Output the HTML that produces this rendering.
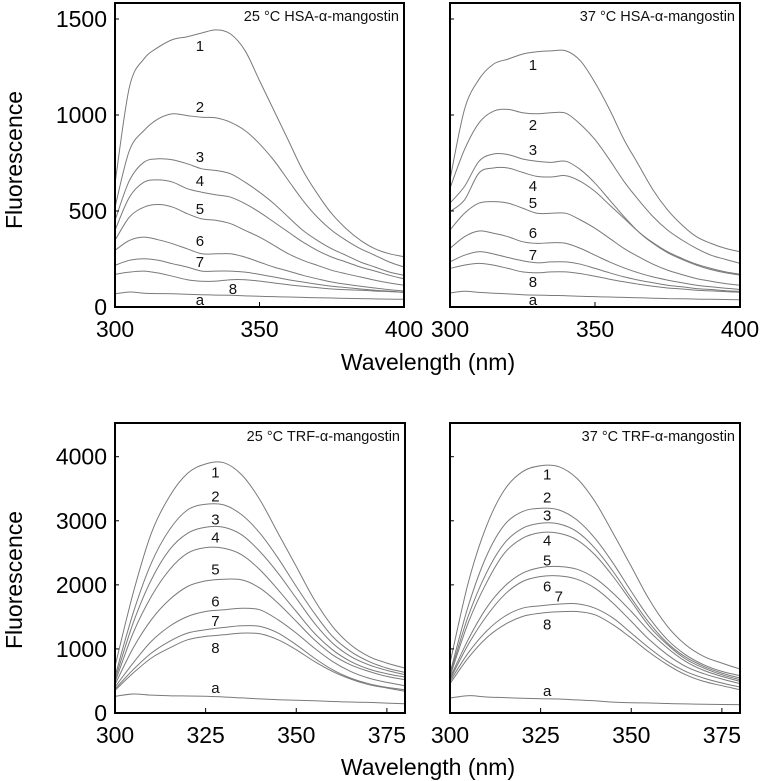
<!DOCTYPE html>
<html><head><meta charset="utf-8"><style>
html,body{margin:0;padding:0;background:#fff;}
svg{display:block;font-family:"Liberation Sans",sans-serif;}
</style></head><body>
<svg id="fig" width="760" height="781" viewBox="0 0 760 781" xmlns="http://www.w3.org/2000/svg"></svg>
<script>
// ---- data ----
const hsaWl = [300,305,310,315,320,325,330,335,340,345,350,355,360,365,370,375,380,385,390,395,400];
const trfWl = [300,305,310,315,320,325,330,335,340,345,350,355,360,365,370,375,380];
const seriesNames = ["1","2","3","4","5","6","7","8","a"];

const hsa25_1 = [642,1145,1292,1353,1393,1408,1427,1443,1422,1335,1179,1023,867,711,590,486,408,347,303,277,262];
const hsa25_2 = [520,815,919,980,1006,997,988,985,962,919,850,763,659,555,468,399,347,303,269,234,208];
const hsa25_3 = [451,659,754,772,766,746,720,711,694,650,598,538,468,399,347,303,269,234,208,182,165];
const hsa25_4 = [399,572,650,662,650,616,598,584,572,538,494,442,390,338,295,260,234,208,187,165,147];
const hsa25_5 = [347,468,520,534,520,486,459,451,434,399,364,321,277,243,217,191,173,156,139,125,113];
const hsa25_6 = [295,347,364,350,329,303,277,277,277,260,234,208,187,165,147,130,118,108,99,90,83];
const hsa25_7 = [217,243,251,243,225,208,187,187,187,182,170,156,142,130,118,108,101,94,87,82,76];
const hsa25_8 = [170,182,187,177,160,142,134,135,142,142,135,125,116,108,101,94,90,87,83,80,76];
const hsa25_a = [69,78,72,70,69,66,64,62,61,58,56,54,52,50,48,47,45,44,42,41,40];

const hsa37_1 = [663,1029,1186,1265,1291,1317,1329,1334,1334,1282,1169,1029,872,741,610,506,427,366,331,305,288];
const hsa37_2 = [619,820,959,1020,1029,1012,1006,1012,1009,951,872,767,654,558,471,401,349,305,270,248,227];
const hsa37_3 = [541,628,759,797,794,771,759,753,759,715,645,558,471,392,331,283,248,218,195,178,166];
const hsa37_4 = [497,558,698,724,724,701,680,677,684,654,602,532,462,392,335,288,253,223,201,183,171];
const hsa37_5 = [401,488,541,549,541,515,488,488,488,453,410,358,305,262,223,192,169,148,134,122,113];
const hsa37_6 = [305,366,396,384,366,340,331,335,331,305,270,235,204,178,157,140,126,113,105,98,91];
const hsa37_7 = [235,270,288,276,258,241,230,235,235,223,201,178,157,140,126,113,105,96,91,85,82];
const hsa37_8 = [201,218,227,218,201,183,178,183,183,174,160,145,131,119,108,99,94,87,84,80,77];
const hsa37_a = [73,82,76,72,68,64,62,60,59,56,54,52,50,48,46,44,43,41,40,39,38];

const trf25_1 = [727,1870,2805,3377,3740,3886,3906,3714,3325,2805,2286,1766,1351,1065,883,779,701];
const trf25_2 = [571,1558,2338,2857,3169,3257,3247,3091,2805,2416,1974,1558,1195,961,805,701,634];
const trf25_3 = [519,1403,2078,2545,2805,2899,2899,2779,2519,2182,1792,1403,1091,883,753,665,597];
const trf25_4 = [478,1247,1818,2234,2494,2582,2571,2468,2234,1922,1584,1247,987,805,686,613,561];
const trf25_5 = [442,1013,1454,1766,1974,2062,2088,2078,1948,1714,1429,1143,909,753,649,571,519];
const trf25_6 = [405,779,1117,1351,1506,1584,1610,1636,1610,1454,1247,1013,805,649,545,478,426];
const trf25_7 = [374,675,935,1117,1247,1299,1335,1361,1351,1247,1065,857,675,545,457,400,364];
const trf25_8 = [353,623,857,1013,1143,1195,1221,1247,1236,1143,987,805,649,530,442,390,338];
const trf25_a = [260,296,280,270,265,260,250,235,220,208,200,190,180,171,165,155,145];

const trf37_1 = [779,2026,2909,3481,3766,3860,3844,3662,3299,2805,2286,1766,1351,1065,883,779,686];
const trf37_2 = [623,1662,2442,2935,3143,3195,3169,3013,2727,2338,1896,1481,1143,909,753,649,582];
const trf37_3 = [597,1506,2182,2649,2883,2961,2951,2831,2571,2208,1792,1403,1091,873,727,623,545];
const trf37_4 = [571,1403,2026,2494,2727,2816,2805,2701,2468,2130,1740,1351,1065,842,701,597,519];
const trf37_5 = [545,1143,1636,1974,2182,2270,2286,2244,2104,1870,1584,1273,1013,805,665,571,493];
const trf37_6 = [519,1065,1506,1844,2052,2130,2140,2088,1948,1714,1429,1143,909,727,613,530,457];
const trf37_7 = [493,935,1273,1506,1636,1673,1699,1704,1636,1481,1247,1013,805,649,545,468,405];
const trf37_8 = [457,857,1169,1377,1506,1558,1579,1584,1532,1377,1169,945,753,597,493,426,364];
const trf37_a = [234,270,250,240,230,222,218,205,190,170,160,156,148,142,136,133,130];

const hsa25LabelWl = [329.4,329.4,329.4,329.4,329.4,329.4,329.4,340.8,329.4];
const hsa25LabelVal = [1359,1042,781,656,510,344,234,94,36];
const hsa37LabelWl = [328.6,328.6,328.6,328.6,328.6,328.6,328.6,328.6,328.6];
const hsa37LabelVal = [1260,948,818,630,542,385,271,130,36];
const trf25LabelWl = [327.7,327.7,327.7,327.7,327.7,327.7,327.7,327.7,327.7];
const trf25LabelVal = [3751,3377,3019,2739,2241,1743,1432,1012,389];
const trf37LabelWl = [326.8,326.8,326.8,326.8,326.8,326.8,330,326.8,326.8];
const trf37LabelVal = [3720,3362,3082,2693,2381,1977,1821,1385,342];

const hsaXTicks = [300,350,400];
const hsaYTicks = [0,500,1000,1500];
const trfXTicks = [300,325,350,375];
const trfYTicks = [0,1000,2000,3000,4000];

// ---- drawing ----
const NS = "http://www.w3.org/2000/svg";
const svg = document.getElementById("fig");
function mk(tag, attrs, parent){
  const e = document.createElementNS(NS, tag);
  for (const k in attrs) e.setAttribute(k, attrs[k]);
  (parent||svg).appendChild(e);
  return e;
}
function smoothPath(pts){
  let d = "M" + pts[0][0].toFixed(1) + "," + pts[0][1].toFixed(1);
  for (let i = 0; i < pts.length - 1; i++) {
    const p0 = pts[Math.max(0, i - 1)], p1 = pts[i], p2 = pts[i + 1], p3 = pts[Math.min(pts.length - 1, i + 2)];
    const c1x = p1[0] + (p2[0] - p0[0]) / 6, c1y = p1[1] + (p2[1] - p0[1]) / 6;
    const c2x = p2[0] - (p3[0] - p1[0]) / 6, c2y = p2[1] - (p3[1] - p1[1]) / 6;
    d += " C" + c1x.toFixed(1) + "," + c1y.toFixed(1) + " " + c2x.toFixed(1) + "," + c2y.toFixed(1) + " " + p2[0].toFixed(1) + "," + p2[1].toFixed(1);
  }
  return d;
}

const panels = [
  {id:"hsa-25", x0:115, x1:404, y0:3, y1:307, xmin:300, xmax:400, ymax:1500, ytop:19, wl:hsaWl,
   series:[hsa25_1,hsa25_2,hsa25_3,hsa25_4,hsa25_5,hsa25_6,hsa25_7,hsa25_8,hsa25_a],
   lw:hsa25LabelWl, lv:hsa25LabelVal, xt:hsaXTicks, yt:hsaYTicks, title:"25 °C HSA-α-mangostin", yLabels:true},
  {id:"hsa-37", x0:450, x1:740, y0:3, y1:307, xmin:300, xmax:400, ymax:1500, ytop:19, wl:hsaWl,
   series:[hsa37_1,hsa37_2,hsa37_3,hsa37_4,hsa37_5,hsa37_6,hsa37_7,hsa37_8,hsa37_a],
   lw:hsa37LabelWl, lv:hsa37LabelVal, xt:hsaXTicks, yt:hsaYTicks, title:"37 °C HSA-α-mangostin", yLabels:false},
  {id:"trf-25", x0:115, x1:405, y0:423, y1:713, xmin:300, xmax:380, ymax:4000, ytop:456.7, wl:trfWl,
   series:[trf25_1,trf25_2,trf25_3,trf25_4,trf25_5,trf25_6,trf25_7,trf25_8,trf25_a],
   lw:trf25LabelWl, lv:trf25LabelVal, xt:trfXTicks, yt:trfYTicks, title:"25 °C TRF-α-mangostin", yLabels:true},
  {id:"trf-37", x0:450, x1:740, y0:423, y1:713, xmin:300, xmax:380, ymax:4000, ytop:456.7, wl:trfWl,
   series:[trf37_1,trf37_2,trf37_3,trf37_4,trf37_5,trf37_6,trf37_7,trf37_8,trf37_a],
   lw:trf37LabelWl, lv:trf37LabelVal, xt:trfXTicks, yt:trfYTicks, title:"37 °C TRF-α-mangostin", yLabels:false}
];

panels.forEach(p => {
  const g = mk("g", {});
  
  
  const xs = v => p.x0 + (v - p.xmin) / (p.xmax - p.xmin) * (p.x1 - p.x0);
  const ys = v => p.y1 - v / p.ymax * (p.y1 - p.ytop);

  p.series.forEach((arr, i) => {
    const pts = arr.map((v, j) => [xs(p.wl[j]), ys(v)]);
    const path = mk("path", {d:smoothPath(pts), fill:"none", stroke:"#7a7a7a", "stroke-width":"1"}, g);
    
    
  });
  seriesNames.forEach((n, i) => {
    const t = mk("text", {x:xs(p.lw[i]), y:ys(p.lv[i]) + 5, "text-anchor":"middle", "font-size":"15", fill:"#111"}, g);
    t.textContent = n;
    
    
  });
  const fr = mk("rect", {x:p.x0, y:p.y0, width:p.x1 - p.x0, height:p.y1 - p.y0, fill:"none", stroke:"#000", "stroke-width":"2"}, g);
  
  
  p.xt.forEach(v => {
    const tk = mk("line", {x1:xs(v), x2:xs(v), y1:p.y1, y2:p.y1 - 5, stroke:"#000", "stroke-width":"1"}, g);
    
    
    const tl = mk("text", {x:xs(v), y:p.y1 + 30, "text-anchor":"middle", "font-size":"23", fill:"#000"}, g);
    tl.textContent = v;
    
    
  });
  p.yt.forEach(v => {
    const tk = mk("line", {x1:p.x0, x2:p.x0 + 4, y1:ys(v), y2:ys(v), stroke:"#000", "stroke-width":"1"}, g);
    
    
    if (p.yLabels) {
      const tl = mk("text", {x:p.x0 - 8, y:ys(v) + 8, "text-anchor":"end", "font-size":"23", fill:"#000"}, g);
      tl.textContent = v;
      
      
    }
  });
  const ti = mk("text", {x:p.x1 - 5, y:p.y0 + 18, "text-anchor":"end", "font-size":"14.5", fill:"#111"}, g);
  ti.textContent = p.title;
  
  
});

[[362, "top"], [767, "bottom"]].forEach(a => {
  const t = mk("text", {x:428, y:a[0] + 8, "text-anchor":"middle", "font-size":"23", fill:"#000"});
  t.textContent = "Wavelength (nm)";
  
  
});
[[160, "top"], [580, "bottom"]].forEach(a => {
  const t = mk("text", {x:0, y:0, "text-anchor":"middle", "font-size":"23", fill:"#000", transform:"translate(22," + a[0] + ") rotate(-90)"});
  t.textContent = "Fluorescence";
  
  
});
</script>
</body></html>
